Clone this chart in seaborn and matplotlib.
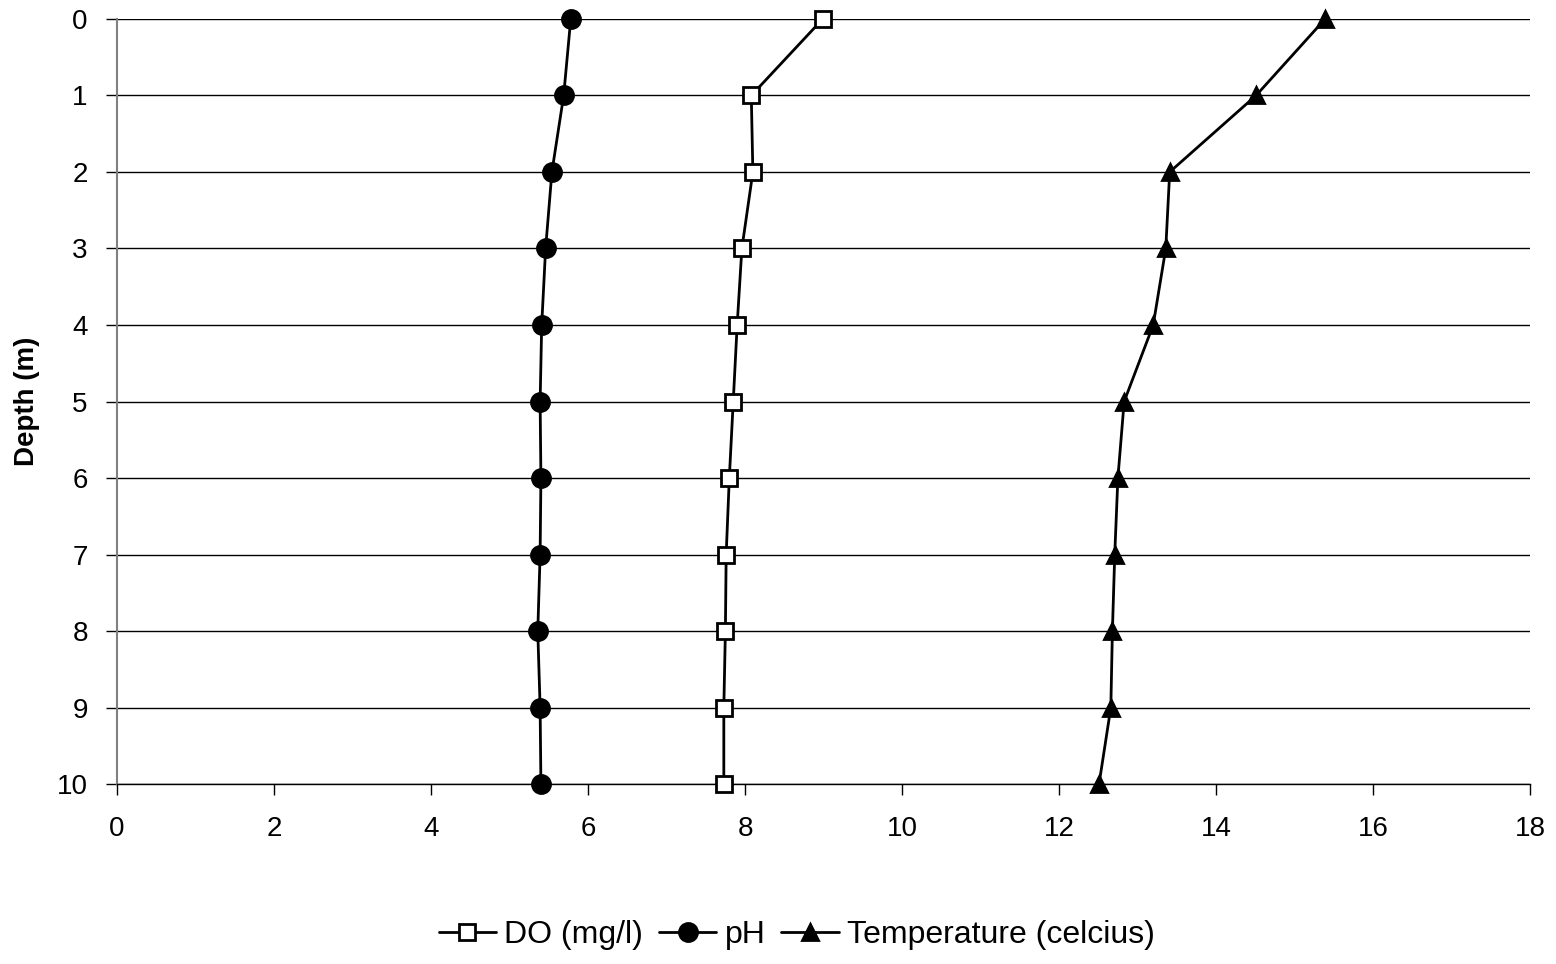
import numpy as np
import pandas as pd
import matplotlib
matplotlib.use("Agg")
import matplotlib.pyplot as plt
import seaborn as sns

# profile data
depth = [0, 1, 2, 3, 4, 5, 6, 7, 8, 9, 10]
do_mgl = [8.99, 8.08, 8.10, 7.96, 7.90, 7.85, 7.80, 7.76, 7.75, 7.73, 7.73]
ph = [5.78, 5.69, 5.54, 5.46, 5.41, 5.39, 5.40, 5.39, 5.36, 5.39, 5.40]
temp_c = [15.39, 14.51, 13.41, 13.36, 13.20, 12.83, 12.75, 12.71, 12.68, 12.66, 12.51]

x_ticks = [0, 2, 4, 6, 8, 10, 12, 14, 16, 18]

sns.set_style("white")
plt.rcParams['font.family'] = ['Liberation Sans', 'DejaVu Sans']
plt.rcParams['text.color'] = 'black'
plt.rcParams['axes.labelcolor'] = 'black'
plt.rcParams['xtick.color'] = 'black'
plt.rcParams['ytick.color'] = 'black'

fig = plt.figure(figsize=(15.56, 9.64), dpi=100)
ax = fig.add_axes([0.0752, 0.1867, 0.9081, 0.7936])

series = [
    ("DO (mg/l)", do_mgl, "s", "white", 11.5),
    ("pH", ph, "o", "black", 13),
    ("Temperature (celcius)", temp_c, "^", "black", 12),
]
for name, vals, mk, fc, ms in series:
    df = pd.DataFrame({"value": vals, "depth": depth})
    sns.lineplot(data=df, x="value", y="depth", orient="y", sort=False,
                 color="black", linewidth=2, marker=mk, markersize=ms,
                 markerfacecolor=fc, markeredgecolor="black", markeredgewidth=2,
                 label=name, ax=ax, clip_on=False, zorder=3)

ax.set_xlim(0, 18)
ax.set_ylim(10, 0)
ax.set_xticks(x_ticks)
ax.set_yticks(depth)
ax.yaxis.grid(True, color="black", linewidth=1)
ax.xaxis.grid(False)
for s in ["top", "right"]:
    ax.spines[s].set_visible(False)
ax.spines["left"].set_color("#808080")
ax.spines["left"].set_linewidth(1.5)
ax.spines["bottom"].set_color("black")
ax.spines["bottom"].set_linewidth(1)
ax.tick_params(axis="both", which="major", length=8, width=1, color="black",
               direction="out", labelsize=20, bottom=True, left=True)
ax.tick_params(axis="y", pad=13)
ax.tick_params(axis="x", pad=15)
ax.set_xlabel("")
ax.set_ylabel("Depth (m)", fontsize=20, fontweight="bold", labelpad=12, color="black")

ax.legend(loc="center", bbox_to_anchor=(0.512, 0.030), bbox_transform=fig.transFigure,
          ncol=3, frameon=False, fontsize=23, handlelength=1.8, handletextpad=0.25,
          columnspacing=0.5, borderpad=0)

fig.savefig("out.png", dpi=100)
